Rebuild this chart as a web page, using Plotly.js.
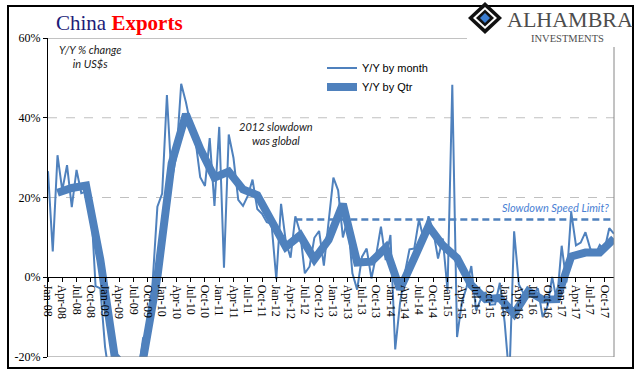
<!DOCTYPE html>
<html>
<head>
<meta charset="utf-8">
<script src="https://cdn.plot.ly/plotly-3.0.1.min.js"></script>
<style>html,body{margin:0;padding:0;background:#fff;}#chart{width:641px;height:381px;}</style>
</head>
<body>
<div id="chart"></div>
<script>
// ---- Data ----
const monthNames = ["Jan","Feb","Mar","Apr","May","Jun","Jul","Aug","Sep","Oct","Nov","Dec"];
const years = ["08","09","10","11","12","13","14","15","16","17"];
const monthLabels = [];
years.forEach(y => monthNames.forEach(m => monthLabels.push(m + "-" + y)));

// Y/Y % change by month
const yoyMonth = [
  26.6, 6.5, 30.6, 21.8, 28.1, 17.6, 26.9, 21.1, 21.5, 19.2, -2.2, -2.8,
  -17.5, -25.7, -17.1, -22.6, -26.4, -21.4, -23.0, -23.4, -15.2, -13.8, -1.2, 17.7,
  21.0, 45.7, 24.3, 30.5, 48.5, 43.9, 38.1, 34.4, 25.1, 22.9, 34.9, 17.9,
  37.7, 2.4, 35.8, 29.9, 19.4, 17.9, 20.4, 24.5, 17.1, 15.9, 13.8, 13.4,
  -0.5, 18.4, 8.9, 4.9, 15.3, 11.3, 1.0, 2.7, 9.9, 11.6, 2.9, 14.1,
  25.0, 21.8, 10.0, 14.7, 1.0, -3.1, 5.1, 7.2, -0.3, 5.6, 12.7, 4.3,
  10.6, -18.1, -6.6, 0.9, 7.0, 7.2, 14.5, 9.4, 15.3, 11.6, 4.7, 9.7,
  -3.3, 48.3, -15.0, -6.4, -2.5, 2.8, -8.3, -5.5, -3.7, -6.9, -6.8, -1.4,
  -11.2, -25.4, 11.5, -1.8, -4.1, -4.8, -4.4, -2.8, -10.0, -7.3, 0.1, -6.1,
  7.9, -1.3, 16.4, 8.0, 8.7, 11.3, 7.2, 5.5, 8.1, 6.9, 12.3, 10.9
];

// Y/Y % change by quarter (plotted at quarter-end month)
const quarterMonths = [];
years.forEach(y => ["Mar","Jun","Sep","Dec"].forEach(m => quarterMonths.push(m + "-" + y)));
const yoyQtr = [
  21.2, 22.4, 23.0, 4.4,
  -19.7, -23.5, -20.5, 0.1,
  28.6, 40.9, 32.2, 25.0,
  26.5, 22.0, 20.6, 14.3,
  7.6, 10.5, 4.5, 9.4,
  18.4, 3.7, 3.9, 7.4,
  -3.0, 4.8, 12.8, 8.0,
  4.8, -2.0, -5.5, -5.2,
  -9.2, -3.5, -5.6, -5.5,
  5.2, 6.2, 6.2, 9.7
];

const speedLimitValue = 14.5;
const speedLimitStart = "May-12";

const yTicks = [-20, 0, 20, 40, 60];
const yTickText = ["-20%", "0%", "20%", "40%", "60%"];

// ---- Build ----
const xMonth = monthLabels.map((_, i) => i);
const xQtr = quarterMonths.map(l => monthLabels.indexOf(l));
const tickIdx = xMonth.filter(i => i % 3 === 0);
const tickText = tickIdx.map(i => monthLabels[i]);
const lastIdx = monthLabels.length - 1;
const blue = "#4F81BD";

const px2x = p => (p - 48) / 566;
const py2y = p => (357 - p) / 319;
function diamond(cx, cy, rx, ry) {
  return "M" + px2x(cx) + "," + py2y(cy - ry) + " L" + px2x(cx + rx) + "," + py2y(cy) +
         " L" + px2x(cx) + "," + py2y(cy + ry) + " L" + px2x(cx - rx) + "," + py2y(cy) + " Z";
}

const traces = [
  {x: xMonth, y: yoyMonth, type: "scatter", mode: "lines", name: "Y/Y by month",
   line: {color: blue, width: 2}},
  {x: xQtr, y: yoyQtr, type: "scatter", mode: "lines", name: "Y/Y by Qtr",
   line: {color: blue, width: 8}},
  {x: [monthLabels.indexOf(speedLimitStart), lastIdx], y: [speedLimitValue, speedLimitValue],
   type: "scatter", mode: "lines", showlegend: false, hoverinfo: "skip",
   line: {color: blue, width: 2.5, dash: "7px,4px"}}
];

const grey = "#868686";
const shapes = [
  {type: "rect", xref: "paper", yref: "paper", x0: px2x(8), x1: px2x(633), y0: py2y(368), y1: py2y(6),
   line: {color: "#000", width: 2}},
  {type: "line", xref: "paper", yref: "y", x0: 0, x1: px2x(467), y0: 60, y1: 60, line: {color: grey, width: 1}},
  {type: "line", xref: "paper", yref: "paper", x0: 1, x1: 1, y0: 0, y1: py2y(47), line: {color: grey, width: 1}},
  {type: "line", xref: "paper", yref: "y", x0: 0, x1: 1, y0: -20, y1: -20, line: {color: grey, width: 1}},
  {type: "line", xref: "paper", yref: "y", x0: 0, x1: 1, y0: 20, y1: 20, layer: "below", line: {color: "#c0c0c0", width: 1, dash: "dash"}},
  {type: "line", xref: "paper", yref: "y", x0: 0, x1: 1, y0: 40, y1: 40, layer: "below", line: {color: "#c0c0c0", width: 1, dash: "dash"}},
  // logo icon
  {type: "path", xref: "paper", yref: "paper", path: diamond(485, 18, 17, 16), fillcolor: "#111", line: {width: 0}},
  {type: "path", xref: "paper", yref: "paper", path: diamond(485, 18, 12, 11), fillcolor: "#fff", line: {width: 0}},
  {type: "path", xref: "paper", yref: "paper", path: diamond(485, 18, 9, 8.5), fillcolor: "#111", line: {width: 0}},
  {type: "path", xref: "paper", yref: "paper", path: diamond(485, 18, 5, 5), fillcolor: "#3b7dd0", line: {width: 0}}
];

const annFont = {family: "Lato, 'Liberation Sans', sans-serif", size: 11, color: "#222"};
const annotations = [
  {xref: "paper", yref: "paper", x: px2x(54), y: py2y(23), xanchor: "left", yanchor: "middle", showarrow: false,
   text: '<span style="color:#1c1c78">China</span> <b><span style="color:#ff0000">Exports</span></b>',
   font: {family: "'Liberation Serif', serif", size: 21}},
  {xref: "paper", yref: "paper", x: px2x(90), y: py2y(56.5), xanchor: "center", yanchor: "middle", showarrow: false,
   text: "<i>Y/Y % change<br>in US$s</i>", font: annFont},
  {xref: "paper", yref: "paper", x: px2x(276), y: py2y(133.5), xanchor: "center", yanchor: "middle", showarrow: false,
   text: "<i>2012 slowdown<br>was global</i>", font: annFont},
  {xref: "paper", yref: "paper", x: px2x(555), y: py2y(207), xanchor: "center", yanchor: "middle", showarrow: false,
   text: "<i>Slowdown Speed Limit?</i>", font: {family: annFont.family, size: 11, color: "#4a7fd4"}},
  {xref: "paper", yref: "paper", x: px2x(505), y: py2y(19), xanchor: "left", yanchor: "middle", showarrow: false,
   text: "ALHAMBRA", font: {family: "'Liberation Serif', serif", size: 22, color: "#4d4d4d"}},
  {xref: "paper", yref: "paper", x: px2x(567), y: py2y(38), xanchor: "center", yanchor: "middle", showarrow: false,
   text: "INVESTMENTS", font: {family: "'Liberation Serif', serif", size: 10.5, color: "#4d4d4d"}}
];

const layout = {
  width: 641, height: 381,
  margin: {l: 48, r: 27, t: 38, b: 24, pad: 0},
  paper_bgcolor: "#fff", plot_bgcolor: "rgba(0,0,0,0)",
  showlegend: true,
  legend: {x: px2x(322), y: py2y(53.5), xanchor: "left", yanchor: "top", bgcolor: "rgba(0,0,0,0)",
           font: {family: "'Liberation Sans', Arial, sans-serif", size: 11, color: "#000"}},
  xaxis: {range: [0, lastIdx], tickvals: tickIdx, ticktext: tickText, tickangle: 90,
          tickfont: {family: "'Liberation Serif', serif", size: 12, color: "#000"},
          showline: true, linecolor: "#000", linewidth: 1, ticks: "outside", ticklen: 4, tickcolor: "#000",
          showgrid: false, zeroline: false, anchor: "free", position: 0.25, fixedrange: true},
  yaxis: {range: [-20, 60], tickvals: yTicks, ticktext: yTickText,
          tickfont: {family: "'Liberation Serif', serif", size: 12, color: "#000"},
          showline: true, linecolor: "#000", linewidth: 1, ticks: "outside", ticklen: 4, tickcolor: "#000",
          showgrid: false, zeroline: false, fixedrange: true},
  shapes: shapes,
  annotations: annotations
};

Plotly.newPlot("chart", traces, layout, {staticPlot: true, displayModeBar: false});
</script>
</body>
</html>
